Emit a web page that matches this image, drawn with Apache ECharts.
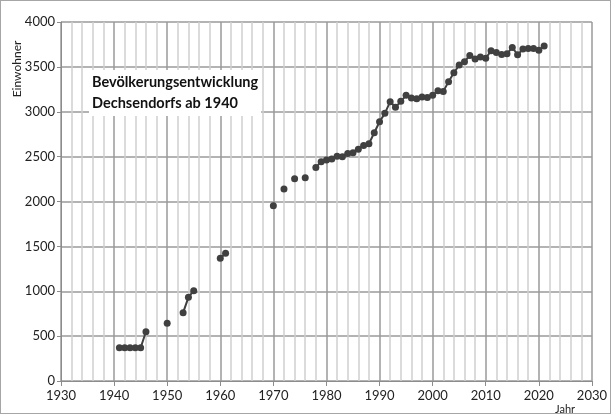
<!DOCTYPE html>
<html>
<head>
<meta charset="utf-8">
<script src="https://cdn.jsdelivr.net/npm/echarts@6/dist/echarts.min.js"></script>
<style>
  html, body { margin: 0; padding: 0; background: #fff; }
  #chart { width: 611px; height: 414px; box-sizing: border-box; border: 1px solid #a6a6a6; }
</style>
</head>
<body>
<div id="chart"></div>
<script>
// Jahre mit bekannten Einwohnerzahlen
const years = [1941, 1942, 1943, 1944, 1945, 1946, 1950, 1953, 1954, 1955, 1960, 1961,
  1970, 1972, 1974, 1976, 1978, 1979, 1980, 1981, 1982, 1983, 1984, 1985, 1986, 1987,
  1988, 1989, 1990, 1991, 1992, 1993, 1994, 1995, 1996, 1997, 1998, 1999, 2000, 2001,
  2002, 2003, 2004, 2005, 2006, 2007, 2008, 2009, 2010, 2011, 2012, 2013, 2014, 2015,
  2016, 2017, 2018, 2019, 2020, 2021]
const population = [370, 370, 370, 370, 370, 549, 643, 761, 932, 1006, 1367, 1423,
  1953, 2139, 2254, 2265, 2380, 2443, 2462, 2473, 2503, 2499, 2536, 2544, 2581, 2625,
  2644, 2766, 2889, 2982, 3112, 3049, 3116, 3183, 3153, 3145, 3164, 3160, 3183, 3234,
  3227, 3335, 3435, 3520, 3557, 3628, 3587, 3609, 3595, 3680, 3661, 3639, 3646, 3717,
  3635, 3698, 3706, 3706, 3684, 3732]
const titleLines = ['Bevölkerungsentwicklung', 'Dechsendorfs ab 1940']

// Lücken zwischen nicht aufeinanderfolgenden Jahren -> Linie unterbrechen
const seriesData = []
years.forEach((y, i) => {
  if (i > 0 && y - years[i - 1] > 1) seriesData.push([y - 0.5, null])
  seriesData.push([y, population[i]])
})

const chart = echarts.init(document.getElementById('chart'))
const fontFamily = 'Lato, "Open Sans", sans-serif'
const labelFont = { fontFamily: fontFamily, fontSize: 13, color: '#222' }
chart.setOption({
  animation: false,
  grid: { left: 60, right: 13, top: 21, bottom: 32 },
  title: {
    text: titleLines.join('\n'),
    left: 88,
    top: 69,
    padding: [2, 3, 2, 3],
    backgroundColor: '#fff',
    textStyle: { fontFamily: fontFamily, fontSize: 14.5, fontWeight: 'bold', color: '#111', lineHeight: 21 }
  },
  graphic: [
    {
      type: 'text',
      x: 16,
      y: 68,
      rotation: Math.PI / 2,
      style: { text: 'Einwohner', font: '12px ' + fontFamily, fill: '#222', align: 'center', verticalAlign: 'middle' }
    },
    {
      type: 'text',
      x: 564,
      y: 408,
      style: { text: 'Jahr', font: '11px ' + fontFamily, fill: '#222', align: 'center', verticalAlign: 'middle' }
    }
  ],
  xAxis: {
    type: 'value',
    min: 1930,
    max: 2030,
    interval: 10,
    axisLine: { lineStyle: { color: '#8c8c8c', width: 1 } },
    axisTick: { show: true, length: 5, lineStyle: { color: '#8c8c8c' } },
    axisLabel: { ...labelFont, margin: 8, formatter: v => String(v) },
    splitLine: { show: true, lineStyle: { color: '#9a9a9a', width: 1.5 } },
    minorTick: { show: false, splitNumber: 5 },
    minorSplitLine: { show: true, lineStyle: { color: '#cfcfcf', width: 1.5 } }
  },
  yAxis: {
    type: 'value',
    min: 0,
    max: 4000,
    interval: 500,
    axisLine: { show: true, lineStyle: { color: '#8c8c8c', width: 1 } },
    axisTick: { show: true, length: 4, lineStyle: { color: '#8c8c8c' } },
    axisLabel: { ...labelFont, margin: 6, formatter: v => String(v) },
    splitLine: { show: true, lineStyle: { color: '#9a9a9a', width: 1.5 } }
  },
  series: [
    {
      type: 'line',
      data: seriesData,
      connectNulls: false,
      symbol: 'circle',
      symbolSize: 7,
      lineStyle: { color: '#404040', width: 2 },
      itemStyle: { color: '#404040' },
      z: 5
    }
  ]
})
</script>
</body>
</html>
